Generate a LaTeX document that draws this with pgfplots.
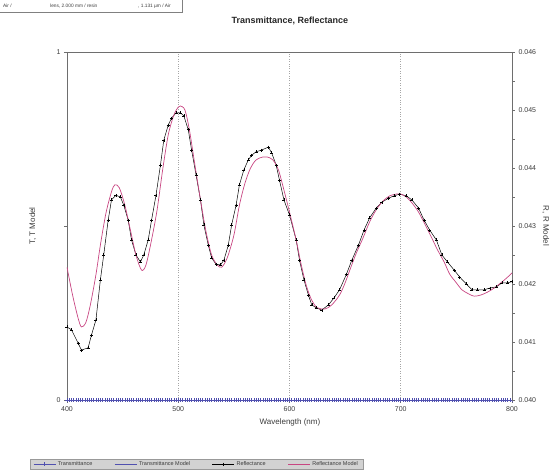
\documentclass[border=0pt]{standalone}
\usepackage{pgfplots}
\pgfplotsset{compat=1.18}
\usepackage{fontspec}
\setmainfont{Liberation Sans}
\definecolor{tblue}{RGB}{80,80,175}
\definecolor{rpink}{RGB}{200,70,130}
\definecolor{axgray}{RGB}{110,110,110}
\definecolor{txtgray}{RGB}{60,60,60}
\begin{document}
\begin{tikzpicture}[x=1pt,y=1pt]
\path[use as bounding box] (0,0) rectangle (550,470);
\begin{axis}[
  at={(67pt,70pt)}, anchor=south west,
  width=445pt, height=348pt, scale only axis,
  xmin=400, xmax=800, ymin=0, ymax=1,
  xtick={400,500,600,700,800},
  ytick={0,0.5,1}, yticklabels={0,,1},
  xtick pos=bottom, ytick pos=left,
  tick align=outside, major tick length=3pt,
  xmajorgrids, grid style={gray!70, dotted, line width=0.6pt},
  axis line style={axgray, line width=0.7pt},
  tick style={axgray, line width=0.6pt},
  /pgf/number format/assume math mode=true,
  tick label style={font=\fontsize{7}{8}\selectfont, text=txtgray},
  xlabel={Wavelength (nm)},
  xlabel style={font=\fontsize{8}{9}\selectfont, text=txtgray, at={(axis description cs:0.501,-0.064)}, anchor=center},
  ylabel={T, T Model},
  ylabel style={font=\fontsize{8}{9}\selectfont, text=txtgray, at={(axis description cs:-0.077,0.5)}, anchor=center},
  title={Transmittance, Reflectance},
  title style={font=\bfseries\fontsize{9}{10}\selectfont, text=black!85, at={(axis description cs:0.501,1.072)}, anchor=center},
]
\addplot[tblue, line width=0.5pt, mark=+, mark size=1.6pt, mark options={line width=0.5pt}] coordinates {
(400,0) (402,0) (404,0) (406,0) (408,0) (410,0) (412,0) (414,0) (416,0) (418,0)
(420,0) (422,0) (424,0) (426,0) (428,0) (430,0) (432,0) (434,0) (436,0) (438,0)
(440,0) (442,0) (444,0) (446,0) (448,0) (450,0) (452,0) (454,0) (456,0) (458,0)
(460,0) (462,0) (464,0) (466,0) (468,0) (470,0) (472,0) (474,0) (476,0) (478,0)
(480,0) (482,0) (484,0) (486,0) (488,0) (490,0) (492,0) (494,0) (496,0) (498,0)
(500,0) (502,0) (504,0) (506,0) (508,0) (510,0) (512,0) (514,0) (516,0) (518,0)
(520,0) (522,0) (524,0) (526,0) (528,0) (530,0) (532,0) (534,0) (536,0) (538,0)
(540,0) (542,0) (544,0) (546,0) (548,0) (550,0) (552,0) (554,0) (556,0) (558,0)
(560,0) (562,0) (564,0) (566,0) (568,0) (570,0) (572,0) (574,0) (576,0) (578,0)
(580,0) (582,0) (584,0) (586,0) (588,0) (590,0) (592,0) (594,0) (596,0) (598,0)
(600,0) (602,0) (604,0) (606,0) (608,0) (610,0) (612,0) (614,0) (616,0) (618,0)
(620,0) (622,0) (624,0) (626,0) (628,0) (630,0) (632,0) (634,0) (636,0) (638,0)
(640,0) (642,0) (644,0) (646,0) (648,0) (650,0) (652,0) (654,0) (656,0) (658,0)
(660,0) (662,0) (664,0) (666,0) (668,0) (670,0) (672,0) (674,0) (676,0) (678,0)
(680,0) (682,0) (684,0) (686,0) (688,0) (690,0) (692,0) (694,0) (696,0) (698,0)
(700,0) (702,0) (704,0) (706,0) (708,0) (710,0) (712,0) (714,0) (716,0) (718,0)
(720,0) (722,0) (724,0) (726,0) (728,0) (730,0) (732,0) (734,0) (736,0) (738,0)
(740,0) (742,0) (744,0) (746,0) (748,0) (750,0) (752,0) (754,0) (756,0) (758,0)
(760,0) (762,0) (764,0) (766,0) (768,0) (770,0) (772,0) (774,0) (776,0) (778,0)
(780,0) (782,0) (784,0) (786,0) (788,0) (790,0) (792,0) (794,0) (796,0) (798,0)
(800,0)};
\addplot[tblue, line width=0.6pt] coordinates {(400,0) (800,0)};
\end{axis}
\begin{axis}[
  at={(67pt,70pt)}, anchor=south west,
  width=445pt, height=348pt, scale only axis,
  xmin=400, xmax=800, ymin=0.040, ymax=0.046,
  axis x line=none, axis y line*=right,
  ytick={0.040,0.041,0.042,0.043,0.044,0.045,0.046},
  minor y tick num=1,
  scaled y ticks=false,
  yticklabel style={/pgf/number format/.cd, fixed, precision=3, fixed zerofill},
  tick align=outside, major tick length=3pt, minor tick length=3pt,
  axis line style={axgray, line width=0.7pt},
  tick style={axgray, line width=0.6pt},
  /pgf/number format/assume math mode=true,
  tick label style={font=\fontsize{7}{8}\selectfont, text=txtgray},
  ylabel={R, R Model},
  ylabel style={font=\fontsize{8}{9}\selectfont, text=txtgray, at={(axis description cs:1.076,0.5)}, anchor=center, rotate=180},
  legend columns=4,
  legend style={at={(axis description cs:-0.083,-0.184)}, anchor=west,
    fill=gray!35, draw=gray!80, font=\fontsize{5.5}{6}\selectfont, text=txtgray,
    inner xsep=3pt, inner ysep=0.5pt, row sep=0pt,
    /tikz/every even column/.append style={column sep=20pt}},
  legend image code/.code={\draw[mark repeat=2,mark phase=2] plot coordinates {(0pt,0pt) (11pt,0pt) (22pt,0pt)};},
]
\addlegendimage{tblue, line width=0.5pt, mark=+, mark size=1.6pt}
\addlegendentry{Transmittance}
\addlegendimage{tblue, line width=0.6pt}
\addlegendentry{Transmittance Model}
\addplot[black, line width=0.5pt, mark=+, mark size=1.5pt, mark options={line width=0.45pt}] coordinates {
(400,0.04126) (404,0.04121) (410,0.04098) (413,0.04086) (419,0.04090) (422,0.04112)
(426,0.04138) (430,0.04207) (433,0.04250) (437,0.04310) (440,0.04345) (444,0.04353)
(448,0.04350) (451,0.04336) (455,0.04310) (458,0.04276) (462,0.04250) (466,0.04238)
(469,0.04250) (473,0.04276) (476,0.04310) (480,0.04353) (484,0.04405) (487,0.04448)
(491,0.04474) (494,0.04486) (498,0.04495) (502,0.04495) (505,0.04490) (509,0.04466)
(512,0.04431) (516,0.04388) (520,0.04345) (523,0.04302) (527,0.04267) (530,0.04245)
(534,0.04234) (538,0.04233) (541,0.04241) (545,0.04267) (548,0.04302) (552,0.04336)
(555,0.04371) (559,0.04397) (563,0.04414) (566,0.04422) (570,0.04428) (575,0.04431)
(581,0.04436) (584,0.04426) (588,0.04405) (591,0.04379) (595,0.04345) (600,0.04319)
(606,0.04276) (609,0.04241) (613,0.04207) (617,0.04181) (620,0.04164) (624,0.04159)
(629,0.04155) (635,0.04164) (640,0.04176) (645,0.04190) (651,0.04216) (656,0.04241)
(662,0.04267) (667,0.04293) (672,0.04314) (678,0.04331) (683,0.04341) (689,0.04348)
(694,0.04352) (699,0.04355) (705,0.04352) (710,0.04345) (716,0.04331) (721,0.04310)
(726,0.04293) (732,0.04276) (737,0.04250) (742,0.04238) (748,0.04224) (753,0.04212)
(759,0.04200) (764,0.04190) (769,0.04190) (775,0.04190) (780,0.04193) (786,0.04195)
(791,0.04202) (796,0.04202) (800,0.04204)};
\addlegendentry{Reflectance}
\addplot[rpink, line width=0.7pt, smooth] coordinates {
(400,0.04229) (405,0.04181) (410,0.04141) (413,0.04126) (417,0.04134) (421,0.04164)
(426,0.04216) (430,0.04267) (435,0.04322) (440,0.04359) (443,0.04371) (447,0.04366)
(452,0.04336) (457,0.04293) (462,0.04250) (467,0.04224) (471,0.04233) (476,0.04276)
(481,0.04328) (486,0.04397) (491,0.04457) (496,0.04491) (500,0.04505) (502,0.04507)
(506,0.04500) (510,0.04466) (515,0.04405) (520,0.04345) (525,0.04290) (530,0.04250)
(535,0.04233) (539,0.04229) (544,0.04245) (550,0.04284) (555,0.04336) (560,0.04374)
(565,0.04400) (570,0.04414) (576,0.04419) (580,0.04419) (585,0.04414) (590,0.04397)
(595,0.04362) (600,0.04324) (606,0.04276) (610,0.04238) (615,0.04198) (620,0.04172)
(625,0.04159) (632,0.04157) (638,0.04164) (645,0.04181) (650,0.04202) (655,0.04228)
(660,0.04253) (666,0.04279) (672,0.04307) (678,0.04328) (684,0.04343) (690,0.04352)
(696,0.04355) (700,0.04355) (705,0.04350) (710,0.04340) (716,0.04324) (722,0.04302)
(728,0.04279) (733,0.04259) (739,0.04238) (744,0.04217) (750,0.04202) (755,0.04190)
(761,0.04183) (766,0.04179) (772,0.04181) (778,0.04186) (784,0.04193) (790,0.04202)
(795,0.04210) (800,0.04219)};
\addlegendentry{Reflectance Model}
\end{axis}
\node[anchor=west, font=\fontsize{4.8}{5}\selectfont, text=txtgray, inner sep=0pt] at (3,464) {Air /};
\node[anchor=west, font=\fontsize{4.8}{5}\selectfont, text=txtgray, inner sep=0pt] at (50,464) {lens, 2.000 mm / resin};
\node[anchor=west, font=\fontsize{4.8}{5}\selectfont, text=txtgray, inner sep=0pt] at (138,464) {, 1.131 µm / Air};
\draw[gray, line width=0.6pt] (0,458) -- (182,458) -- (182,470);
\end{tikzpicture}
\end{document}
